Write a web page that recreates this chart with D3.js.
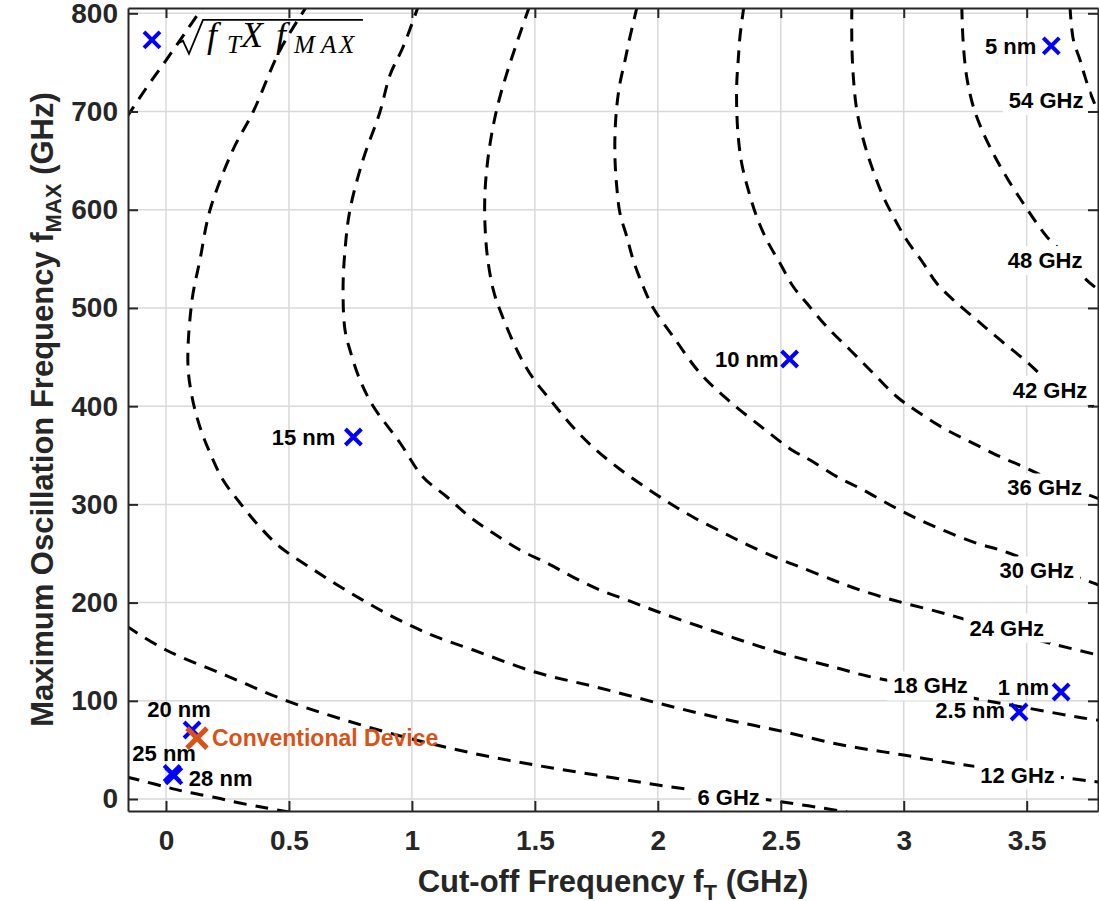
<!DOCTYPE html>
<html>
<head>
<meta charset="utf-8">
<script src="https://cdn.jsdelivr.net/npm/d3@7"></script>
<style>
body { margin: 0; background: #fff; }
#container { width: 1099px; height: 901px; }
</style>
</head>
<body>
<div id="container"></div>
<script>
// contour lines, [fT, fMAX]
var contourLow = [[-0.16,22.4],[-0.11,19.3],[0,12.2],[0.085,7.1],[0.19,2],[0.3,-4.1],[0.41,-9.2],[0.5,-13.2]];
var contour6Upper = [[-0.16,694],[-0.08,724],[0,752],[0.08,781],[0.16,810]];
var contour6 = [[-0.16,176],[0,151.7],[0.25,125.2],[0.5,99.1],[0.75,78.7],[1.0,61.1],[1.25,46.5],[1.5,34.6],[1.75,24.4],[2.0,14.3],[2.25,5.8],[2.5,-2.7],[2.77,-13.2]];
var contour12 = [[0.58,810],[0.464,762.7],[0.354,699.5],[0.272,660.8],[0.179,599.7],[0.138,548.8],[0.106,508.1],[0.089,443.9],[0.106,409.3],[0.138,378.8],[0.179,352.3],[0.232,324.8],[0.301,301.4],[0.382,276.9],[0.464,256.6],[0.6,233.5],[0.7,217.5],[0.8,202.5],[0.9,188.5],[1.0,176],[1.1,165],[1.25,151.7],[1.5,129.3],[1.75,114],[2.0,97.7],[2.25,82.5],[2.5,69.2],[2.75,55],[3.0,44.8],[3.25,34.6],[3.5,26.5],[3.8,17]];
var contour18 = [[1.03,810],[0.964,765.7],[0.911,737.2],[0.87,699.5],[0.801,650.6],[0.748,599.7],[0.728,559],[0.72,518.3],[0.728,477.5],[0.748,457.2],[0.789,426.6],[0.842,400.2],[0.952,362.5],[1.045,327.9],[1.143,307.5],[1.236,287.1],[1.33,270.8],[1.44,253.5],[1.549,240.3],[1.655,226],[1.765,212.8],[1.875,202.6],[2.0,190.7],[2.25,169],[2.5,148.7],[2.729,133.4],[2.851,125.2],[3.1,113],[3.322,100.8],[3.501,92.7],[3.729,82.5],[3.8,80]];
var contour24 = [[1.478,807],[1.426,769.5],[1.386,738.9],[1.351,708.4],[1.325,677.8],[1.307,647.3],[1.297,616.7],[1.297,586.2],[1.307,552.2],[1.331,518.3],[1.358,497.9],[1.431,455.1],[1.492,428.7],[1.57,404.2],[1.651,379.8],[1.736,358.4],[1.834,338],[1.936,319.7],[2.041,302.4],[2.143,287.1],[2.261,271.8],[2.367,258.6],[2.485,245.4],[2.578,236.2],[2.712,223],[2.822,212.8],[2.956,202.6],[3.188,187.4],[3.42,170],[3.623,156.8],[3.8,146]];
var contour30 = [[1.916,807],[1.887,776.2],[1.867,752.5],[1.846,728.7],[1.833,704.9],[1.826,677.8],[1.826,650.6],[1.833,623.5],[1.846,596.4],[1.874,572.5],[1.9,548.8],[1.941,521.6],[1.982,499.6],[2.063,470.7],[2.172,433.5],[2.294,404.5],[2.429,377.4],[2.545,355.4],[2.619,345.2],[2.728,328.2],[2.836,314.6],[2.958,297.6],[3.066,284.1],[3.175,272.2],[3.297,260.4],[3.392,253.5],[3.54,240],[3.77,220],[3.8,217]];
var contour36 = [[2.35,807],[2.334,776.2],[2.327,752.5],[2.321,728.7],[2.321,701.5],[2.327,674.4],[2.341,647.3],[2.368,620.1],[2.402,592.9],[2.443,569.2],[2.497,545.4],[2.551,521.6],[2.606,504.7],[2.687,480.9],[2.782,457.2],[2.876,433.5],[2.972,409.6],[3.066,392.7],[3.175,375.7],[3.283,362.2],[3.392,348.5],[3.486,338.4],[3.6,325],[3.8,305]];
var contour42 = [[2.789,807],[2.789,769.5],[2.795,735.5],[2.809,701.5],[2.836,671],[2.87,643.8],[2.911,616.7],[2.958,592.9],[3.012,569.2],[3.08,545.4],[3.134,525.1],[3.202,508.1],[3.297,487.7],[3.392,467.4],[3.5,445.3],[3.595,424],[3.8,396]];
var contour48 = [[3.236,807],[3.242,769.5],[3.256,735.5],[3.283,704.9],[3.324,677.8],[3.371,654],[3.425,630.3],[3.486,606.6],[3.541,586.2],[3.582,572.5],[3.656,553.9],[3.744,528.4],[3.8,517]];
var contour54 = [[3.676,807],[3.69,772.8],[3.717,752.5],[3.737,735.5],[3.76,718],[3.79,700]];

var contourLines = [contourLow, contour6Upper, contour6, contour12, contour18, contour24, contour30, contour36, contour42, contour48, contour54];

var contourLevels = [6, 12, 18, 24, 30, 36, 42, 48, 54];
var contourLabelAt = [[2.288,2.5],[3.463,24.9],[3.109,115.6],[3.419,174.6],[3.541,232.7],[3.573,317.2],[3.595,416.5],[3.575,548.8],[3.579,711.8]];

var devices = ['28 nm', '25 nm', '20 nm', '15 nm', '10 nm', '5 nm', '2.5 nm', '1 nm'];
var deviceFt = [0.032, 0.025, 0.106, 0.762, 2.536, 3.6, 3.469, 3.64];
var deviceFmax = [23.5, 26, 70.3, 368.6, 448, 766.8, 88.6, 109];
var conventional = [0.126, 62];
var legendPoint = [-0.057, 773];

var xTicks = [0, 0.5, 1, 1.5, 2, 2.5, 3, 3.5];
var yTicks = [0, 100, 200, 300, 400, 500, 600, 700, 800];

// label placement around each marker
var labelPlace = {
	'28 nm': { dx: 15, dy: 10, anchor: 'start' },
	'25 nm': { dx: -8, dy: -12, anchor: 'middle' },
	'20 nm': { dx: -13, dy: -13, anchor: 'middle' },
	'15 nm': { dx: -18, dy: 8, anchor: 'end' },
	'10 nm': { dx: -11, dy: 8, anchor: 'end' },
	'5 nm': { dx: -15, dy: 8, anchor: 'end' },
	'2.5 nm': { dx: -14, dy: 6, anchor: 'end' },
	'1 nm': { dx: -12, dy: 3, anchor: 'end' }
};

var sans = '"Liberation Sans", Arial, sans-serif';
var serif = '"Liberation Serif", "Times New Roman", serif';

draw();

function draw() {

	var W = 1099, H = 901;
	var pl = 128, pr = 1098, pt = 8, pb = 811;

	var svg = d3.select('#container').append('svg')
		.attr('width', W)
		.attr('height', H)
		.style('font-family', sans);

	var x = d3.scaleLinear().domain([-0.1545, 3.79]).range([pl, pr]);
	var y = d3.scaleLinear().domain([-12.2, 805.4]).range([pb, pt]);

	svg.append('defs').append('clipPath').attr('id', 'plot')
		.append('rect')
		.attr('x', pl).attr('y', pt)
		.attr('width', pr - pl).attr('height', pb - pt);

	// grid
	var grid = svg.append('g');
	grid.selectAll('.gx').data(xTicks).enter().append('line')
		.attr('x1', d => x(d)).attr('x2', d => x(d))
		.attr('y1', pt).attr('y2', pb)
		.attr('stroke', '#d9d9d9').attr('stroke-width', 1.5);
	grid.selectAll('.gy').data(yTicks).enter().append('line')
		.attr('y1', d => y(d)).attr('y2', d => y(d))
		.attr('x1', pl).attr('x2', pr)
		.attr('stroke', '#d9d9d9').attr('stroke-width', 1.5);

	// contours
	var line = d3.line()
		.x(d => x(d[0]))
		.y(d => y(d[1]))
		.curve(d3.curveCatmullRom.alpha(0.5));

	var plot = svg.append('g').attr('clip-path', 'url(#plot)');
	plot.selectAll('.contour').data(contourLines).enter().append('path')
		.attr('d', line)
		.attr('fill', 'none')
		.attr('stroke', '#000')
		.attr('stroke-width', 3)
		.attr('stroke-dasharray', '13,9');

	// contour labels with white backing
	var clab = plot.selectAll('.clab').data(contourLevels).enter().append('g');
	clab.append('rect').attr('fill', '#fff');
	clab.append('text')
		.attr('x', (d, i) => x(contourLabelAt[i][0]))
		.attr('y', (d, i) => y(contourLabelAt[i][1]) + 8)
		.attr('text-anchor', 'middle')
		.attr('font-size', 22)
		.attr('font-weight', 'bold')
		.attr('fill', '#000')
		.text(d => d + ' GHz');
	clab.each(function() {
		var b = d3.select(this).select('text').node().getBBox();
		d3.select(this).select('rect')
			.attr('x', b.x - 6).attr('y', b.y - 2)
			.attr('width', b.width + 12).attr('height', b.height + 4);
	});

	// axes
	function styleAxis(a) {
		a.attr('font-size', null).attr('font-family', null);
		a.selectAll('path').attr('stroke', '#262626').attr('stroke-width', 2);
		a.selectAll('line').attr('stroke', '#262626').attr('stroke-width', 2);
		a.selectAll('text')
			.style('font-family', sans)
			.style('font-size', '28px')
			.style('font-weight', 'bold')
			.attr('fill', '#262626');
	}

	var xAxis = svg.append('g')
		.attr('transform', 'translate(0,' + pb + ')')
		.call(d3.axisBottom(x).tickValues(xTicks).tickSize(-10).tickSizeOuter(0).tickPadding(19).tickFormat(d => String(d)));
	styleAxis(xAxis);

	var xAxisTop = svg.append('g')
		.attr('transform', 'translate(0,' + pt + ')')
		.call(d3.axisTop(x).tickValues(xTicks).tickSize(-10).tickSizeOuter(0).tickFormat(''));
	styleAxis(xAxisTop);

	var yAxis = svg.append('g')
		.attr('transform', 'translate(' + pl + ',0)')
		.call(d3.axisLeft(y).tickValues(yTicks).tickSize(-10).tickSizeOuter(0).tickPadding(10).tickFormat(d => String(d)));
	styleAxis(yAxis);

	var yAxisRight = svg.append('g')
		.attr('transform', 'translate(' + pr + ',0)')
		.call(d3.axisRight(y).tickValues(yTicks).tickSize(-10).tickSizeOuter(0).tickFormat(''));
	styleAxis(yAxisRight);

	// axis titles
	var xt = svg.append('text')
		.attr('x', (pl + pr) / 2)
		.attr('y', 892)
		.attr('text-anchor', 'middle')
		.attr('font-size', 31)
		.attr('font-weight', 'bold')
		.attr('fill', '#262626');
	xt.append('tspan').text('Cut-off Frequency f');
	xt.append('tspan').attr('dy', 8).attr('font-size', 22).text('T');
	xt.append('tspan').attr('dy', -8).text(' (GHz)');

	var yt = svg.append('text')
		.attr('transform', 'translate(53,' + ((pt + pb) / 2) + ') rotate(-90)')
		.attr('text-anchor', 'middle')
		.attr('font-size', 31)
		.attr('font-weight', 'bold')
		.attr('fill', '#262626');
	yt.append('tspan').text('Maximum Oscillation Frequency f');
	yt.append('tspan').attr('dy', 8).attr('font-size', 22).text('MAX');
	yt.append('tspan').attr('dy', -8).text(' (GHz)');

	// markers
	var cross = 'M-8,-8L8,8M-8,8L8,-8';
	var pts = svg.append('g');
	pts.selectAll('.dev').data(devices).enter().append('path')
		.attr('d', cross)
		.attr('transform', (d, i) => 'translate(' + x(deviceFt[i]) + ',' + y(deviceFmax[i]) + ')')
		.attr('fill', 'none')
		.attr('stroke', '#0000ff')
		.attr('stroke-width', 4);

	pts.selectAll('.devlab').data(devices).enter().append('text')
		.attr('x', (d, i) => x(deviceFt[i]) + labelPlace[d].dx)
		.attr('y', (d, i) => y(deviceFmax[i]) + labelPlace[d].dy)
		.attr('text-anchor', d => labelPlace[d].anchor)
		.attr('font-size', 22)
		.attr('font-weight', 'bold')
		.attr('fill', '#000')
		.text(d => d);

	pts.append('path')
		.attr('d', 'M-10,-10L10,10M-10,10L10,-10')
		.attr('transform', 'translate(' + x(conventional[0]) + ',' + y(conventional[1]) + ')')
		.attr('fill', 'none')
		.attr('stroke', '#D95319')
		.attr('stroke-width', 5);
	pts.append('text')
		.attr('x', x(conventional[0]) + 15)
		.attr('y', y(conventional[1]) + 8)
		.attr('font-size', 23)
		.attr('font-weight', 'bold')
		.attr('fill', '#D95319')
		.text('Conventional Device');

	// legend entry
	var lx = x(legendPoint[0]), ly = y(legendPoint[1]);
	var leg = svg.append('g');
	leg.append('path')
		.attr('d', cross)
		.attr('transform', 'translate(' + lx + ',' + ly + ')')
		.attr('fill', 'none')
		.attr('stroke', '#0000ff')
		.attr('stroke-width', 4);
	leg.append('path')
		.attr('d', 'M' + (lx + 25) + ',' + (ly + 4) + 'l6,-3l6,13l14,-34h160')
		.attr('fill', 'none')
		.attr('stroke', '#000')
		.attr('stroke-width', 1.8)
		.attr('stroke-linejoin', 'miter');
	var parts = [
		{ t: 'f', dx: 55, dy: 7, s: 36 },
		{ t: 'T', dx: 75, dy: 13, s: 25 },
		{ t: 'X', dx: 89, dy: 7, s: 36 },
		{ t: 'f', dx: 124, dy: 7, s: 36 },
		{ t: 'M', dx: 142, dy: 13, s: 25 },
		{ t: 'A', dx: 169, dy: 13, s: 25 },
		{ t: 'X', dx: 187, dy: 13, s: 25 }
	];
	leg.selectAll('.sq').data(parts).enter().append('text')
		.attr('x', d => lx + d.dx)
		.attr('y', d => ly + d.dy)
		.style('font-family', serif)
		.attr('font-style', 'italic')
		.attr('font-size', d => d.s)
		.attr('fill', '#000')
		.text(d => d.t);
}
</script>
</body>
</html>
